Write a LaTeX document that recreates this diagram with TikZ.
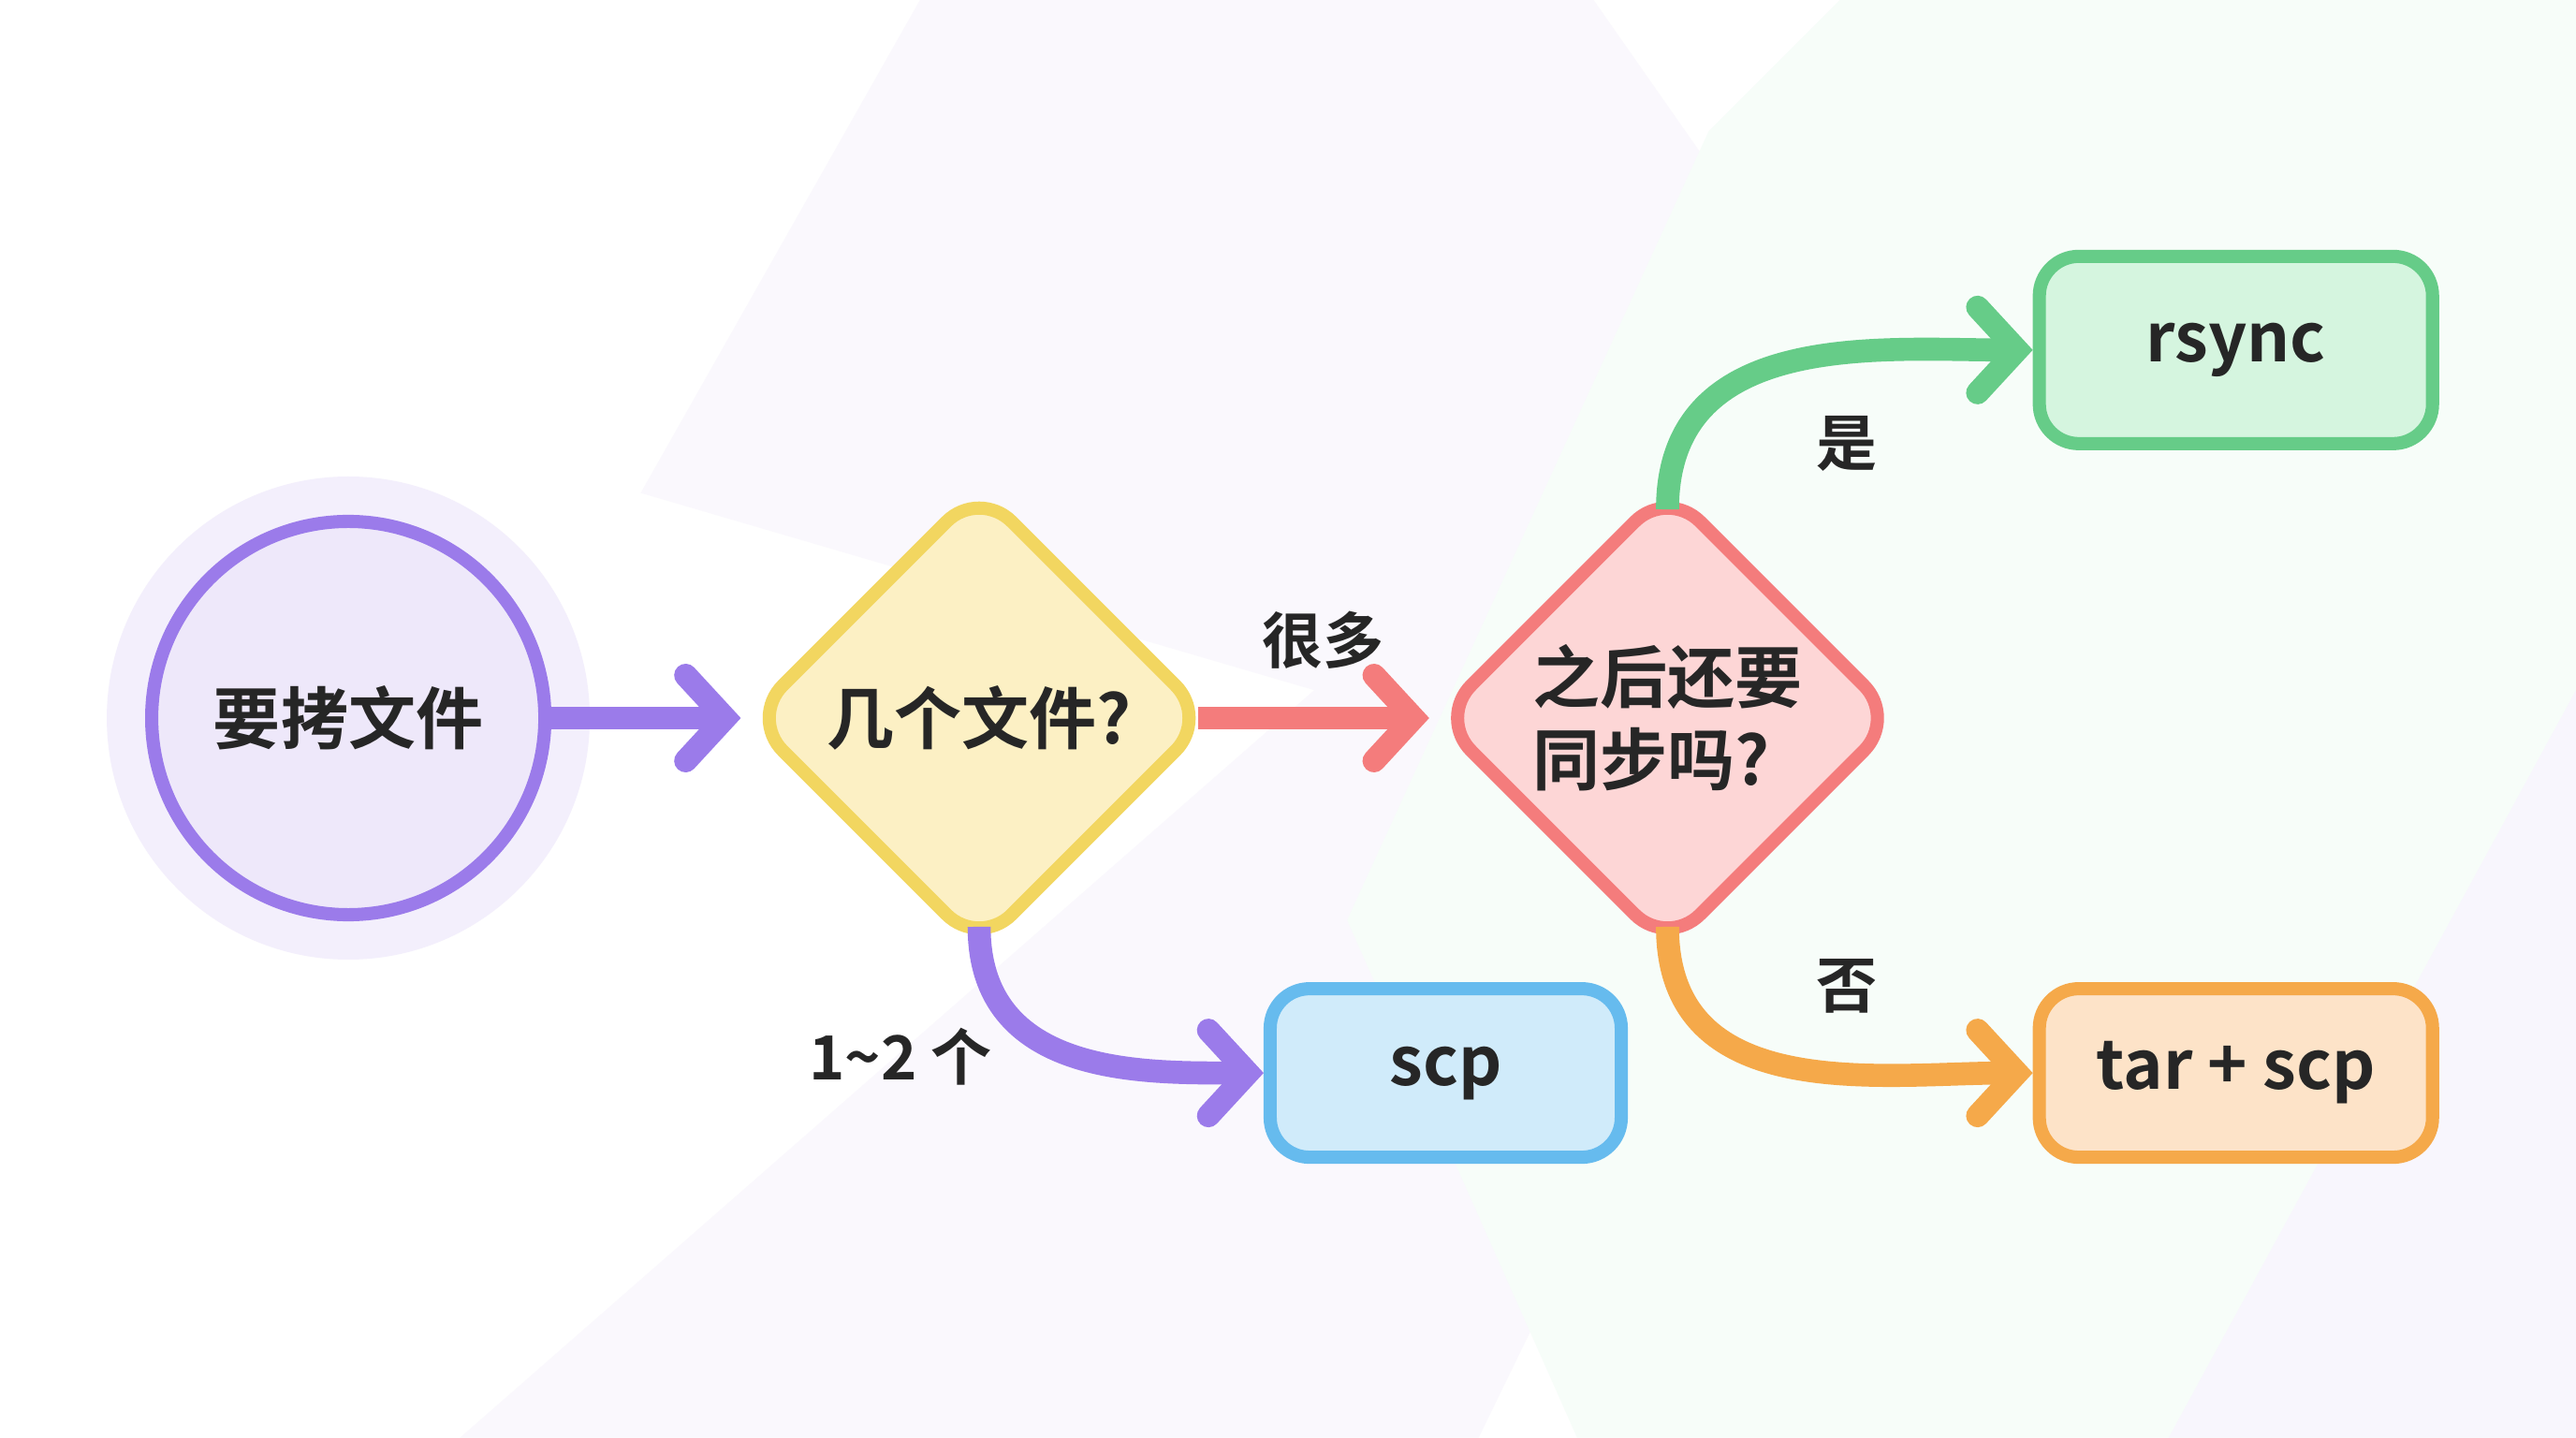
\documentclass[tikz,border=0pt]{standalone}
\usepackage{fontspec}
\setmainfont{Noto Sans CJK SC}[BoldFont={Noto Sans CJK SC Bold}]
\usetikzlibrary{shapes.geometric,arrows.meta}
\definecolor{purp}{HTML}{9B7BEA}
\definecolor{purpfill}{HTML}{EEE8FA}
\definecolor{yel}{HTML}{F2D660}
\definecolor{yelfill}{HTML}{FCF0C4}
\definecolor{redd}{HTML}{F47C7C}
\definecolor{redfill}{HTML}{FDD6D6}
\definecolor{grn}{HTML}{66CC88}
\definecolor{grnfill}{HTML}{D5F5DF}
\definecolor{blu}{HTML}{66BBEE}
\definecolor{blufill}{HTML}{D0EBFA}
\definecolor{org}{HTML}{F5A94A}
\definecolor{orgfill}{HTML}{FDE3C8}
\tikzset{
  every node/.style={font=\bfseries\fontsize{20.5}{25}\selectfont, text=black!85},
  dec/.style={diamond, aspect=1, minimum width=4.95cm, minimum height=4.95cm,
    line width=4pt, rounded corners=14pt, inner sep=0pt},
  box/.style={rectangle, rounded corners=12pt, line width=4pt,
    minimum height=1.9cm},
  flow/.style={line width=7pt, -{Straight Barb[length=12pt,width=26pt,line cap=round]}},
  lbl/.style={font=\bfseries\fontsize{18.5}{22}\selectfont}
}
\begin{document}
\begin{tikzpicture}[x=0.01755cm,y=-0.01755cm]
\useasboundingbox (0,0) rectangle (1568,875);
% background
\fill[white] (0,0) rectangle (1568,875);
\fill[purpfill!30] (560,0) -- (970,0) -- (1180,300) -- (900,875) -- (280,875) -- (800,420) -- (390,300) -- cycle;
\fill[grnfill!18] (1040,80) -- (1120,0) -- (1568,0) -- (1568,875) -- (960,875) -- (820,560) -- cycle;
\fill[purpfill!40] (1568,420) -- (1568,875) -- (1320,875) -- cycle;
% nodes
\fill[purp!12] (212,437) circle (147);
\node[circle, draw=purp, fill=purpfill, line width=4pt, minimum size=4.2cm] (start) at (212,437) {要拷文件};
\node[dec, draw=yel, fill=yelfill] (count) at (596,437) {几个文件?};
\node[dec, draw=redd, fill=redfill, align=left] (sync) at (1015,437) {之后还要\\同步吗?};
\node[box, draw=grn, fill=grnfill, minimum width=4.2cm, minimum height=2cm] (rsync) at (1361,213) {rsync};
\node[box, draw=blu, fill=blufill, minimum width=3.75cm, minimum height=1.8cm] (scp) at (880,653) {scp};
\node[box, draw=org, fill=orgfill, minimum width=4.2cm, minimum height=1.8cm] (tar) at (1361,653) {tar + scp};
% connectors
\draw[flow, purp] (start) -- (count);
\draw[flow, redd, shorten <=-6pt] (count) -- node[lbl, above=8pt] {很多} (sync);
\begin{scope}[on background layer/.style={}]
\draw[flow, purp, shorten <=-9pt] (count.south) to[out=-90, in=180] (scp.west);
\draw[flow, grn, shorten <=-9pt] (sync.north) to[out=90, in=180] (rsync.west);
\draw[flow, org, shorten <=-9pt] (sync.south) to[out=-90, in=180] (tar.west);
\end{scope}
\node[lbl] (few) at (548,643) {1\textasciitilde2 个};
\node[lbl] (yes) at (1124,270) {是};
\node[lbl] (no) at (1124,600) {否};
\end{tikzpicture}
\end{document}
